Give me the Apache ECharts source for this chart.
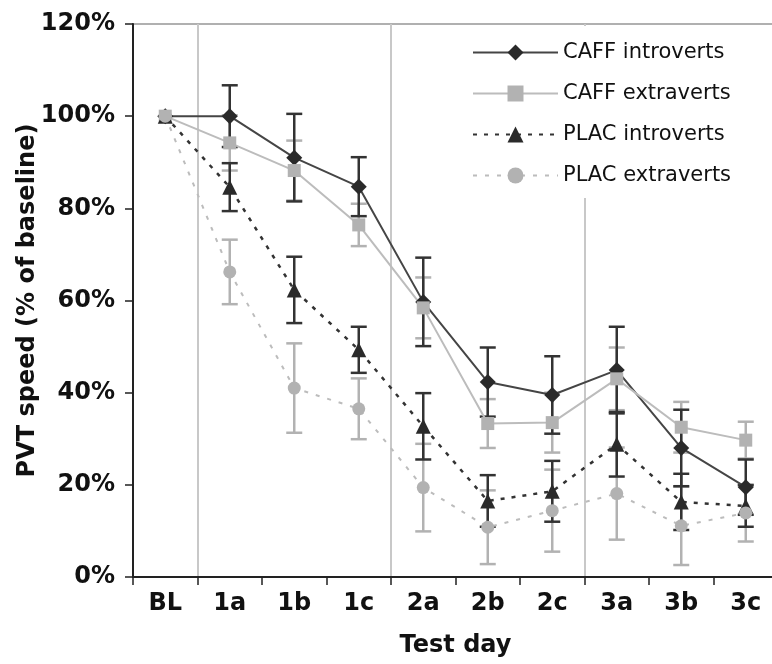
<!DOCTYPE html>
<html><head><meta charset="utf-8">
<script src="https://cdn.jsdelivr.net/npm/echarts@6/dist/echarts.min.js"></script>
<style>html,body{margin:0;padding:0;background:#fff}#c{width:772px;height:664px}</style>
</head><body><div id="c"></div>
<script>
const categories = ['BL','1a','1b','1c','2a','2b','2c','3a','3b','3c'];
const yTicks = [0, 20, 40, 60, 80, 100, 120];
const caffIntro    = [100, 100, 91, 84.7, 59.7, 42.3, 39.5, 44.9, 28, 19.5];
const caffIntroErr = [0, 6.7, 9.5, 6.4, 9.6, 7.5, 8.4, 9.4, 8.3, 6];
const caffExtra    = [100, 94.2, 88.2, 76.4, 58.4, 33.3, 33.5, 43, 32.5, 29.7];
const caffExtraErr = [0, 6, 6.5, 4.6, 6.6, 5.3, 6.5, 6.8, 5.5, 4];
const placIntro    = [100, 84.6, 62.3, 49.3, 32.7, 16.5, 18.6, 28.8, 16.3, 15.4];
const placIntroErr = [0, 5.2, 7.2, 5, 7.2, 5.6, 6.6, 7, 6.1, 4.5];
const placExtra    = [100, 66.2, 41, 36.5, 19.4, 10.8, 14.4, 18.1, 11.1, 13.9];
const placExtraErr = [0, 7, 9.7, 6.6, 9.5, 8, 8.9, 10, 8.5, 6.2];
const seriesNames = ['CAFF introverts', 'CAFF extraverts', 'PLAC introverts', 'PLAC extraverts'];
const dividerIdx = [1, 4, 7];

const DARK = '#2a2a2a', LINE_DARK = '#454545', GRAY = '#b2b2b2', LINE_GRAY = '#bcbcbc';
const FONT = 'DejaVu Sans';

const chart = echarts.init(document.getElementById('c'), null, {renderer: 'canvas'});

function errSeries(name, means, errs, color) {
  return {
    type: 'custom', name: name, z: 1, silent: true,
    data: means.map((m, i) => [i, m, errs[i]]),
    encode: {x: 0, y: 1},
    renderItem: function (params, api) {
      const i = api.value(0), m = api.value(1), e = api.value(2);
      if (!e) return null;
      const top = api.coord([i, m + e]), bot = api.coord([i, m - e]);
      const w = 8;
      const st = {stroke: color, lineWidth: 2.5};
      return {type: 'group', children: [
        {type: 'line', shape: {x1: top[0], y1: top[1], x2: bot[0], y2: bot[1]}, style: st},
        {type: 'line', shape: {x1: top[0] - w, y1: top[1], x2: top[0] + w, y2: top[1]}, style: st},
        {type: 'line', shape: {x1: bot[0] - w, y1: bot[1], x2: bot[0] + w, y2: bot[1]}, style: st}
      ]};
    }
  };
}

const option = {
  animation: false,
  backgroundColor: '#fff',
  grid: {left: 133, top: 24, bottom: 87, width: 645, outerBoundsMode: 'none', containLabel: false,
    show: true, borderColor: '#b0b0b0', borderWidth: 2, backgroundColor: 'transparent'},
  legend: {
    data: seriesNames,
    orient: 'vertical',
    left: 452, top: 26,
    padding: [16, 40, 12, 20],
    backgroundColor: '#fff',
    itemWidth: 85, itemHeight: 20, itemGap: 20,
    textStyle: {fontFamily: FONT, fontSize: 21, color: '#111', lineHeight: 21}
  },
  xAxis: {
    type: 'category', data: categories, boundaryGap: true,
    name: 'Test day', nameLocation: 'middle', nameGap: 57, nameMoveOverlap: false,
    nameTextStyle: {fontFamily: FONT, fontSize: 24, fontWeight: 'bold', color: '#111'},
    axisLine: {lineStyle: {color: '#222', width: 2}},
    axisTick: {show: true, interval: 0, length: 8, lineStyle: {color: '#222', width: 1.5}},
    axisLabel: {interval: 0, margin: 15, fontFamily: FONT, fontSize: 24, fontWeight: 'bold', color: '#111'},
    splitLine: {show: true, interval: function (idx) { return dividerIdx.indexOf(idx) >= 0; }, lineStyle: {color: '#c8c8c8', width: 2}}
  },
  yAxis: {
    type: 'value', min: yTicks[0], max: yTicks[yTicks.length - 1], interval: 20,
    name: 'PVT speed (% of baseline)', nameLocation: 'middle', nameGap: 93, nameRotate: 90, nameMoveOverlap: false,
    nameTextStyle: {fontFamily: FONT, fontSize: 24, fontWeight: 'bold', color: '#111'},
    axisLine: {show: true, lineStyle: {color: '#222', width: 2}},
    axisTick: {show: true, length: 8, lineStyle: {color: '#222', width: 1.5}},
    axisLabel: {margin: 18, formatter: '{value}%', fontFamily: FONT, fontSize: 24, fontWeight: 'bold', color: '#111'},
    splitLine: {show: false}
  },
  series: [
    errSeries('e1', caffExtra, caffExtraErr, GRAY),
    errSeries('e2', placExtra, placExtraErr, GRAY),
    errSeries('e3', caffIntro, caffIntroErr, '#333'),
    errSeries('e4', placIntro, placIntroErr, '#333'),
    {name: seriesNames[0], type: 'line', data: caffIntro, z: 3, symbol: 'diamond', symbolSize: 16,
      itemStyle: {color: DARK}, lineStyle: {color: LINE_DARK, width: 2}},
    {name: seriesNames[1], type: 'line', data: caffExtra, z: 3, symbol: 'rect', symbolSize: 13,
      itemStyle: {color: GRAY}, lineStyle: {color: LINE_GRAY, width: 2}},
    {name: seriesNames[2], type: 'line', data: placIntro, z: 3, symbol: 'triangle', symbolSize: 15,
      itemStyle: {color: DARK}, lineStyle: {color: '#333', width: 2.5, type: [4, 7]}},
    {name: seriesNames[3], type: 'line', data: placExtra, z: 3, symbol: 'circle', symbolSize: 13,
      itemStyle: {color: GRAY}, lineStyle: {color: LINE_GRAY, width: 2, type: [4, 8]}}
  ]
};
chart.setOption(option);
</script></body></html>
